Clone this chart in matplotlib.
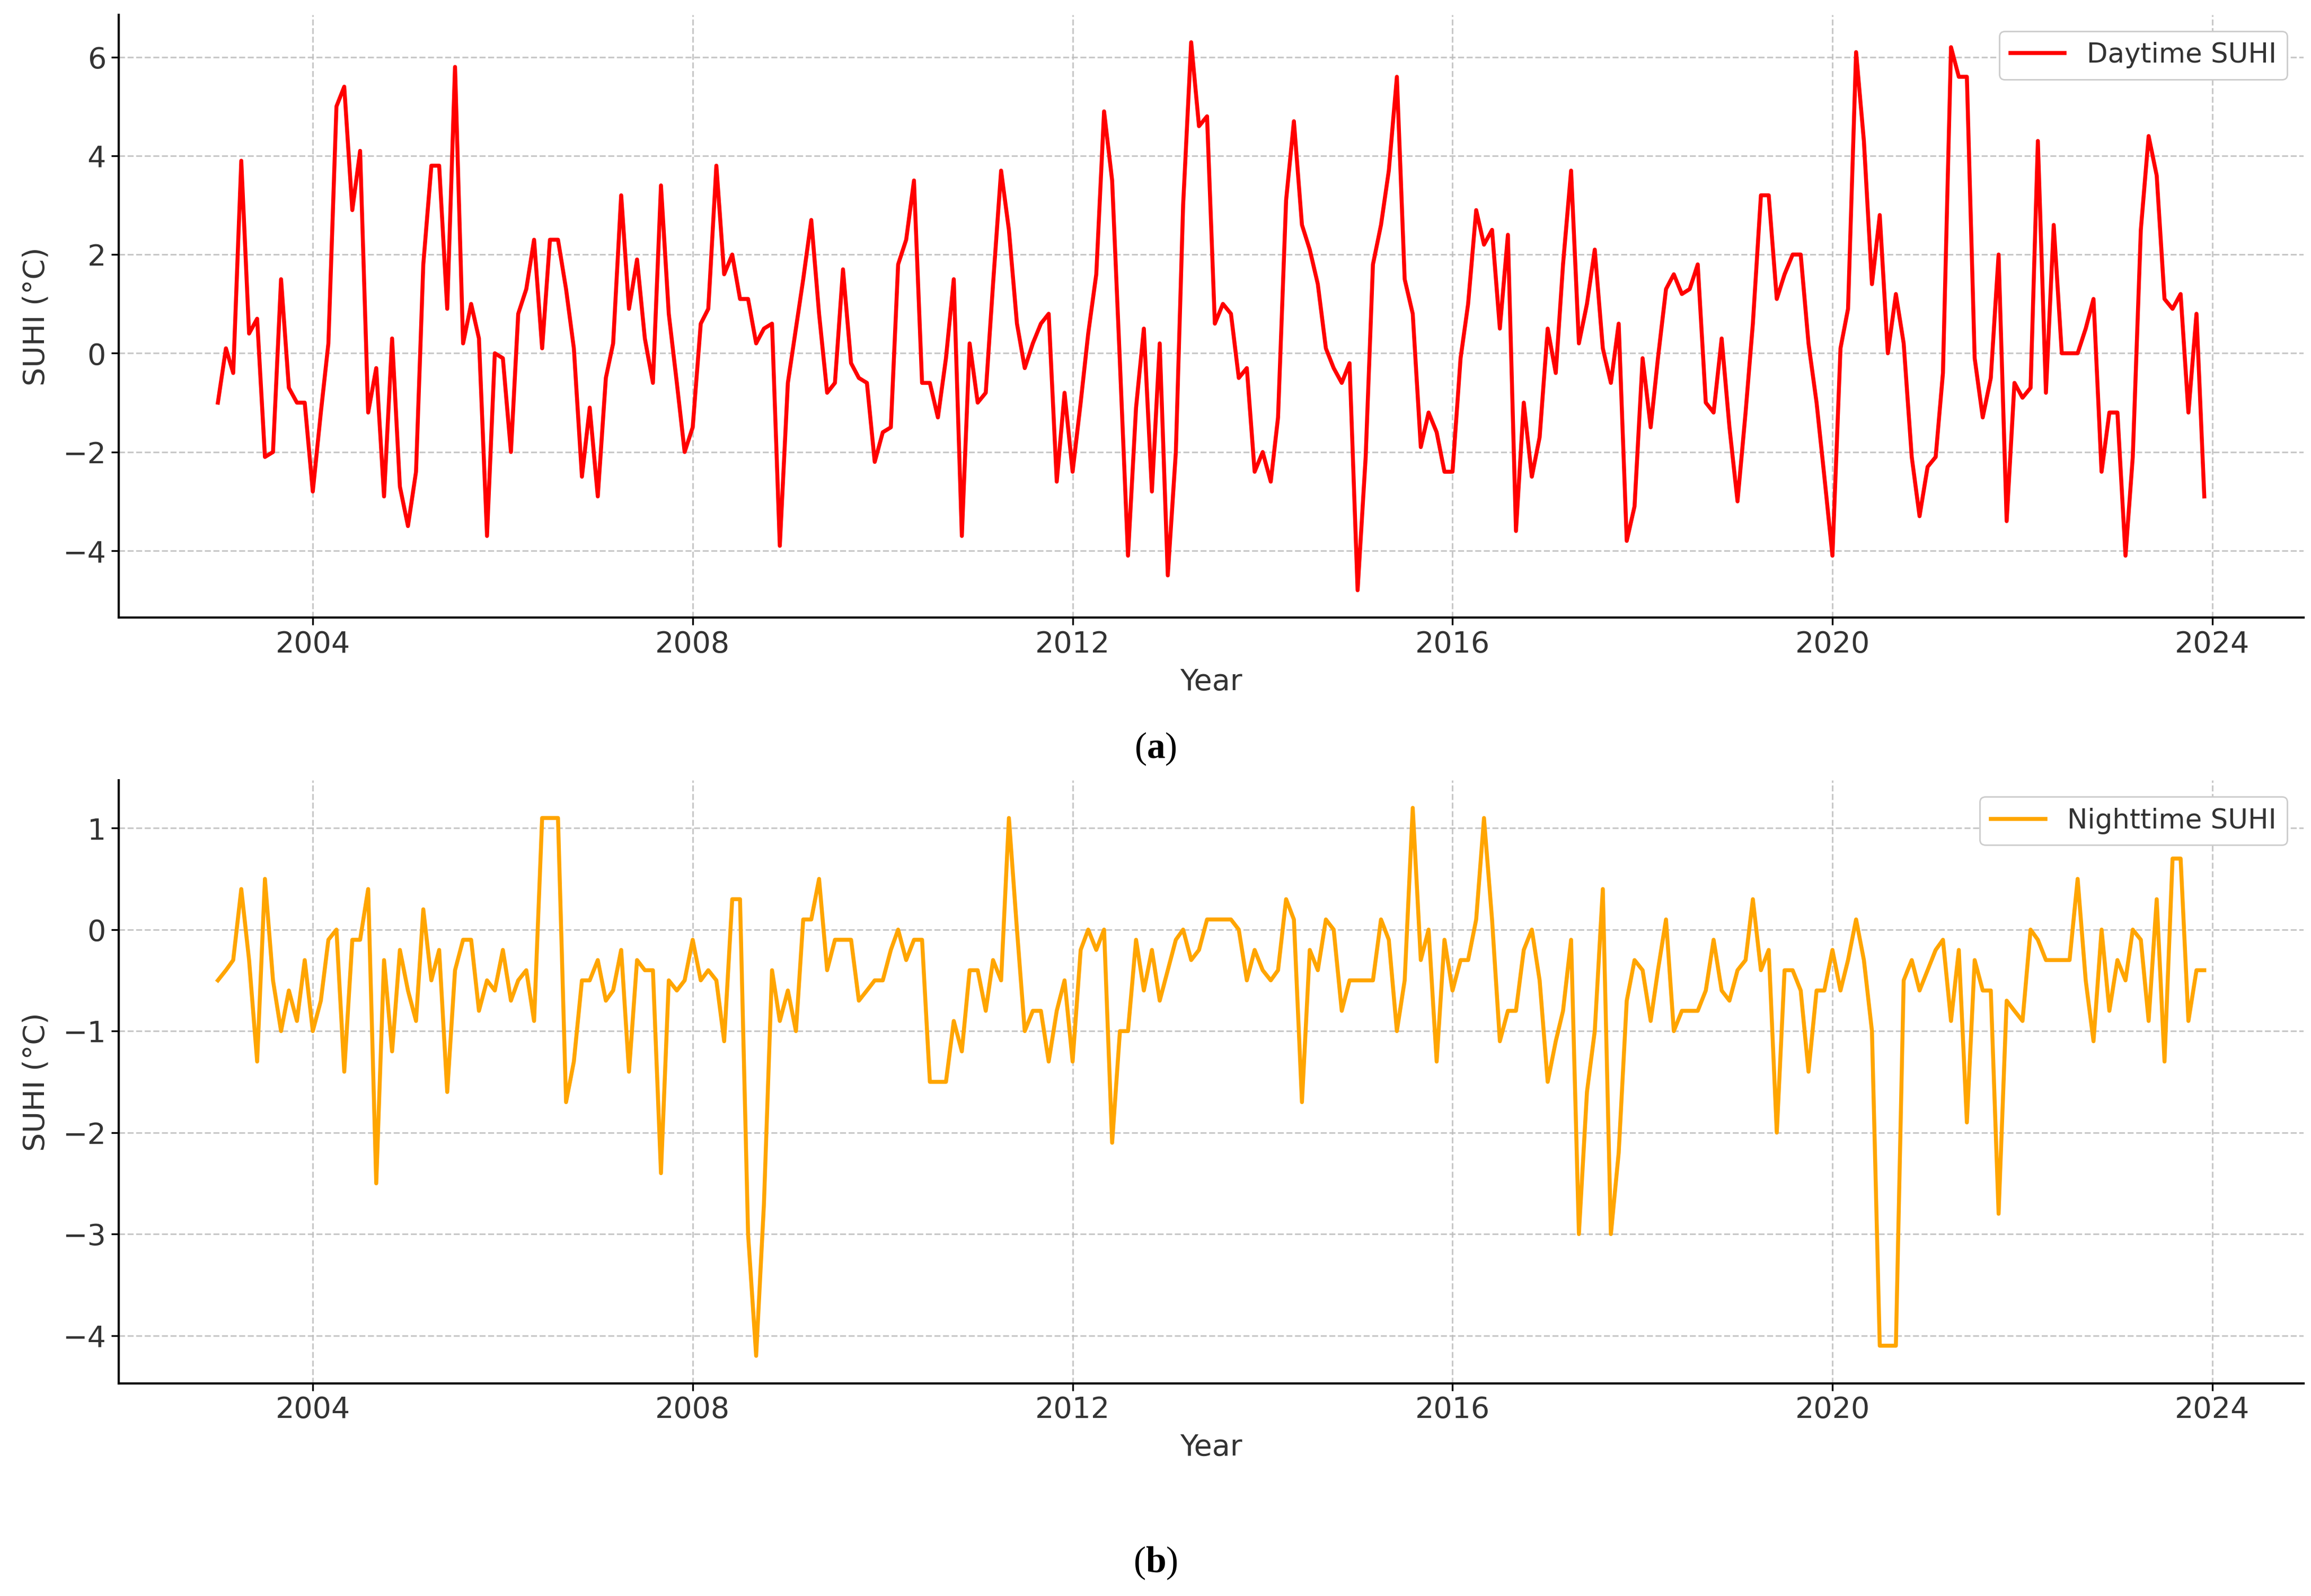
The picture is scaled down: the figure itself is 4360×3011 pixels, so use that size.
import numpy as np
import pandas as pd
import matplotlib
matplotlib.use('Agg')
import matplotlib.pyplot as plt
import matplotlib.dates as mdates

# Monthly SUHI values, Jan 2003 - Dec 2023
dates = pd.date_range('2003-01-01', '2023-12-01', freq='MS')

day_suhi = [
    -1.0, 0.1, -0.4, 3.9, 0.4, 0.7, -2.1, -2.0, 1.5, -0.7, -1.0, -1.0,      # 2003
    -2.8, -1.2, 0.2, 5.0, 5.4, 2.9, 4.1, -1.2, -0.3, -2.9, 0.3, -2.7,       # 2004
    -3.5, -2.4, 1.8, 3.8, 3.8, 0.9, 5.8, 0.2, 1.0, 0.3, -3.7, 0.0,          # 2005
    -0.1, -2.0, 0.8, 1.3, 2.3, 0.1, 2.3, 2.3, 1.3, 0.1, -2.5, -1.1,         # 2006
    -2.9, -0.5, 0.2, 3.2, 0.9, 1.9, 0.3, -0.6, 3.4, 0.8, -0.6, -2.0,        # 2007
    -1.5, 0.6, 0.9, 3.8, 1.6, 2.0, 1.1, 1.1, 0.2, 0.5, 0.6, -3.9,           # 2008
    -0.6, 0.5, 1.5, 2.7, 0.8, -0.8, -0.6, 1.7, -0.2, -0.5, -0.6, -2.2,      # 2009
    -1.6, -1.5, 1.8, 2.3, 3.5, -0.6, -0.6, -1.3, -0.1, 1.5, -3.7, 0.2,      # 2010
    -1.0, -0.8, 1.4, 3.7, 2.5, 0.6, -0.3, 0.2, 0.6, 0.8, -2.6, -0.8,        # 2011
    -2.4, -1.0, 0.4, 1.6, 4.9, 3.5, -0.2, -4.1, -1.1, 0.5, -2.8, 0.2,       # 2012
    -4.5, -2.0, 3.0, 6.3, 4.6, 4.8, 0.6, 1.0, 0.8, -0.5, -0.3, -2.4,        # 2013
    -2.0, -2.6, -1.3, 3.1, 4.7, 2.6, 2.1, 1.4, 0.1, -0.3, -0.6, -0.2,       # 2014
    -4.8, -2.1, 1.8, 2.6, 3.7, 5.6, 1.5, 0.8, -1.9, -1.2, -1.6, -2.4,       # 2015
    -2.4, -0.1, 1.0, 2.9, 2.2, 2.5, 0.5, 2.4, -3.6, -1.0, -2.5, -1.7,       # 2016
    0.5, -0.4, 1.8, 3.7, 0.2, 1.0, 2.1, 0.1, -0.6, 0.6, -3.8, -3.1,         # 2017
    -0.1, -1.5, -0.1, 1.3, 1.6, 1.2, 1.3, 1.8, -1.0, -1.2, 0.3, -1.5,       # 2018
    -3.0, -1.2, 0.6, 3.2, 3.2, 1.1, 1.6, 2.0, 2.0, 0.2, -1.0, -2.5,         # 2019
    -4.1, 0.1, 0.9, 6.1, 4.3, 1.4, 2.8, 0.0, 1.2, 0.2, -2.1, -3.3,          # 2020
    -2.3, -2.1, -0.4, 6.2, 5.6, 5.6, -0.1, -1.3, -0.5, 2.0, -3.4, -0.6,     # 2021
    -0.9, -0.7, 4.3, -0.8, 2.6, 0.0, 0.0, 0.0, 0.5, 1.1, -2.4, -1.2,        # 2022
    -1.2, -4.1, -2.1, 2.5, 4.4, 3.6, 1.1, 0.9, 1.2, -1.2, 0.8, -2.9,        # 2023
]

night_suhi = [
    -0.5, -0.4, -0.3, 0.4, -0.3, -1.3, 0.5, -0.5, -1.0, -0.6, -0.9, -0.3,   # 2003
    -1.0, -0.7, -0.1, 0.0, -1.4, -0.1, -0.1, 0.4, -2.5, -0.3, -1.2, -0.2,   # 2004
    -0.6, -0.9, 0.2, -0.5, -0.2, -1.6, -0.4, -0.1, -0.1, -0.8, -0.5, -0.6,  # 2005
    -0.2, -0.7, -0.5, -0.4, -0.9, 1.1, 1.1, 1.1, -1.7, -1.3, -0.5, -0.5,    # 2006
    -0.3, -0.7, -0.6, -0.2, -1.4, -0.3, -0.4, -0.4, -2.4, -0.5, -0.6, -0.5, # 2007
    -0.1, -0.5, -0.4, -0.5, -1.1, 0.3, 0.3, -3.0, -4.2, -2.7, -0.4, -0.9,   # 2008
    -0.6, -1.0, 0.1, 0.1, 0.5, -0.4, -0.1, -0.1, -0.1, -0.7, -0.6, -0.5,    # 2009
    -0.5, -0.2, 0.0, -0.3, -0.1, -0.1, -1.5, -1.5, -1.5, -0.9, -1.2, -0.4,  # 2010
    -0.4, -0.8, -0.3, -0.5, 1.1, 0.0, -1.0, -0.8, -0.8, -1.3, -0.8, -0.5,   # 2011
    -1.3, -0.2, 0.0, -0.2, 0.0, -2.1, -1.0, -1.0, -0.1, -0.6, -0.2, -0.7,   # 2012
    -0.4, -0.1, 0.0, -0.3, -0.2, 0.1, 0.1, 0.1, 0.1, 0.0, -0.5, -0.2,       # 2013
    -0.4, -0.5, -0.4, 0.3, 0.1, -1.7, -0.2, -0.4, 0.1, 0.0, -0.8, -0.5,     # 2014
    -0.5, -0.5, -0.5, 0.1, -0.1, -1.0, -0.5, 1.2, -0.3, 0.0, -1.3, -0.1,    # 2015
    -0.6, -0.3, -0.3, 0.1, 1.1, 0.1, -1.1, -0.8, -0.8, -0.2, 0.0, -0.5,     # 2016
    -1.5, -1.1, -0.8, -0.1, -3.0, -1.6, -1.0, 0.4, -3.0, -2.2, -0.7, -0.3,  # 2017
    -0.4, -0.9, -0.4, 0.1, -1.0, -0.8, -0.8, -0.8, -0.6, -0.1, -0.6, -0.7,  # 2018
    -0.4, -0.3, 0.3, -0.4, -0.2, -2.0, -0.4, -0.4, -0.6, -1.4, -0.6, -0.6,  # 2019
    -0.2, -0.6, -0.3, 0.1, -0.3, -1.0, -4.1, -4.1, -4.1, -0.5, -0.3, -0.6,  # 2020
    -0.4, -0.2, -0.1, -0.9, -0.2, -1.9, -0.3, -0.6, -0.6, -2.8, -0.7, -0.8, # 2021
    -0.9, 0.0, -0.1, -0.3, -0.3, -0.3, -0.3, 0.5, -0.5, -1.1, 0.0, -0.8,    # 2022
    -0.3, -0.5, 0.0, -0.1, -0.9, 0.3, -1.3, 0.7, 0.7, -0.9, -0.4, -0.4,     # 2023
]

plt.rcParams['font.family'] = 'DejaVu Sans'
plt.rcParams['mathtext.fontset'] = 'custom'
plt.rcParams['mathtext.rm'] = 'Liberation Serif'
plt.rcParams['mathtext.bf'] = 'Liberation Serif:bold'

fig = plt.figure(figsize=(21.8, 15.055), dpi=200)
ax1 = fig.add_axes([0.0513, 0.613, 0.9455, 0.3777])
ax2 = fig.add_axes([0.0513, 0.1333, 0.9455, 0.3777])

ax1.plot(dates, day_suhi, color='red', linewidth=2.7, label='Daytime SUHI')
ax2.plot(dates, night_suhi, color='orange', linewidth=2.7, label='Nighttime SUHI')

for ax in (ax1, ax2):
    ax.xaxis.set_major_locator(mdates.YearLocator(4))
    ax.xaxis.set_major_formatter(mdates.DateFormatter('%Y'))
    ax.set_xlabel('Year', fontsize=20, color='#333333', labelpad=6)
    ax.set_ylabel('SUHI (°C)', fontsize=20, color='#333333', labelpad=8)
    ax.tick_params(labelsize=20, labelcolor='#333333', color='black',
                   length=5, width=1.2)
    ax.grid(True, linestyle='--', color='#bbbbbb', linewidth=1.1, alpha=0.8)
    ax.spines['top'].set_visible(False)
    ax.spines['right'].set_visible(False)
    ax.spines['left'].set_linewidth(1.5)
    ax.spines['bottom'].set_linewidth(1.5)
    leg = ax.legend(loc='upper right', fontsize=18.5, framealpha=1,
                    edgecolor='#cccccc', borderaxespad=0.6)
    for t in leg.get_texts():
        t.set_color('#333333')

fig.text(0.5, 0.5306, r'($\mathbf{a}$)', ha='center', va='center',
         fontsize=25, family='Liberation Serif')
fig.text(0.5, 0.0204, r'($\mathbf{b}$)', ha='center', va='center',
         fontsize=25, family='Liberation Serif')

fig.savefig('out.png', dpi=200)
